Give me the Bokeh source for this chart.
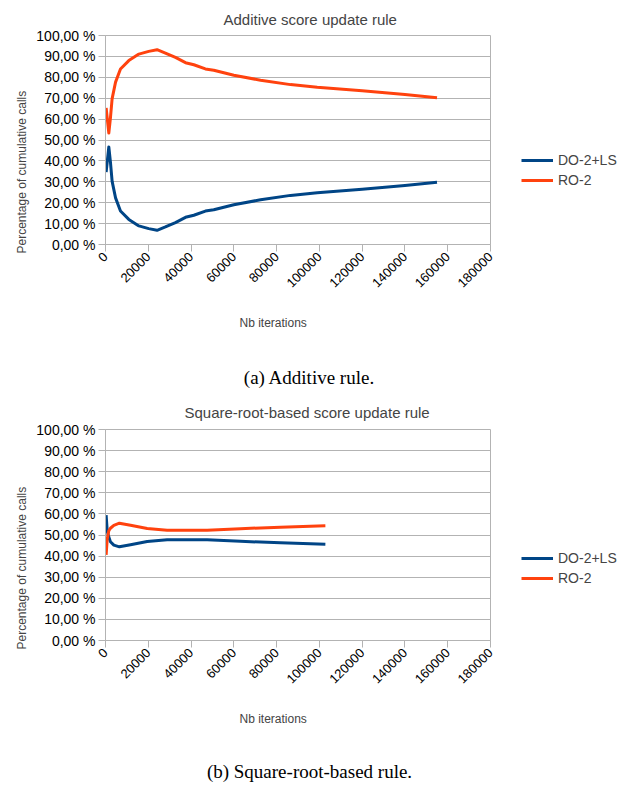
import math
from bokeh.plotting import figure
from bokeh.models import (Range1d, FixedTicker, Legend, LegendItem, Title, Label, Column, Row)
from bokeh.embed import file_html
from bokeh.resources import INLINE

# ---------------- data ----------------
series_names = ["DO-2+LS", "RO-2"]
series_colors = ["#004586", "#ff420e"]

y_ticks = [0, 10, 20, 30, 40, 50, 60, 70, 80, 90, 100]
y_tick_labels = ["0,00 %", "10,00 %", "20,00 %", "30,00 %", "40,00 %", "50,00 %",
                 "60,00 %", "70,00 %", "80,00 %", "90,00 %", "100,00 %"]
x_ticks = [0, 20000, 40000, 60000, 80000, 100000, 120000, 140000, 160000, 180000]
x_tick_labels = ["0", "20000", "40000", "60000", "80000", "100000", "120000",
                 "140000", "160000", "180000"]

# (a) additive rule
iters_a = [300, 1550, 2300, 3100, 4700, 7000, 10900, 15600, 20200, 24100, 28000,
           32700, 37400, 41300, 46700, 50600, 60000, 72500, 86500, 99000,
           120000, 140000, 155000]
do2ls_a = [34.6, 46.7, 39.5, 30.2, 22.3, 16.0, 12.0, 8.9, 7.6, 6.8, 8.4,
           10.5, 13.0, 14.0, 16.0, 16.6, 19.0, 21.4, 23.5, 24.8,
           26.4, 28.2, 29.8]
ro2_a = [65.4, 53.3, 60.5, 69.8, 77.7, 84.0, 88.0, 91.1, 92.4, 93.2, 91.6,
         89.5, 87.0, 86.0, 84.0, 83.4, 81.0, 78.6, 76.5, 75.2,
         73.6, 71.8, 70.2]

# (b) square-root-based rule
iters_b = [300, 800, 1550, 2300, 3900, 6500, 11700, 19500, 28800, 35000, 47500,
           63100, 81800, 102800]
do2ls_b = [59.4, 52.0, 49.0, 46.8, 45.2, 44.4, 45.4, 46.9, 47.7, 47.8, 47.7,
           47.0, 46.3, 45.6]
ro2_b = [40.6, 48.0, 52.0, 53.2, 54.6, 55.6, 54.6, 53.1, 52.3, 52.2, 52.3,
         53.0, 53.7, 54.4]

titles = ["Additive score update rule", "Square-root-based score update rule"]
captions = ["(a) Additive rule.", "(b) Square-root-based rule."]
x_label = "Nb iterations"
y_label = "Percentage of cumulative calls"

FONT = "Liberation Sans"
GRID = "#b3b3b3"


def make_chart(iters, do2, ro2, title, title_off, title_standoff, xl_standoff,
               height, top, frame_h):
    p = figure(width=500, height=height, x_range=Range1d(0, 180000), y_range=Range1d(0, 100),
               output_backend="svg", toolbar_location=None,
               min_border_left=105, min_border_right=10, min_border_top=top,
               min_border_bottom=height - top - frame_h)
    p.outline_line_color = GRID
    p.outline_line_width = 1
    p.xgrid.visible = False
    p.ygrid.grid_line_color = GRID
    p.ygrid.grid_line_width = 1
    p.ygrid.ticker = FixedTicker(ticks=y_ticks)

    p.yaxis.ticker = FixedTicker(ticks=y_ticks)
    p.yaxis.major_label_overrides = dict(zip(y_ticks, y_tick_labels))
    p.xaxis.ticker = FixedTicker(ticks=x_ticks)
    p.xaxis.major_label_overrides = dict(zip(x_ticks, x_tick_labels))
    p.xaxis.major_label_orientation = math.pi / 4
    for ax in (p.xaxis, p.yaxis):
        ax.axis_line_color = GRID
        ax.major_tick_line_color = GRID
        ax.minor_tick_line_color = None
        ax.major_tick_in = 0
        ax.major_tick_out = 7
        ax.major_label_text_font = FONT
        ax.major_label_text_color = "#000000"
        ax.major_label_standoff = 3
    p.yaxis.major_label_text_font_size = "14px"
    p.xaxis.major_label_text_font_size = "13px"

    p.line(iters, do2, line_width=3, color=series_colors[0], line_join="round")
    p.line(iters, ro2, line_width=3, color=series_colors[1], line_join="round")

    p.title.text = title
    p.title.align = "left"
    p.title.offset = title_off
    p.title.text_font = FONT
    p.title.text_font_size = "15px"
    p.title.text_font_style = "normal"
    p.title.text_line_height = 0.8
    p.title.standoff = title_standoff

    p.add_layout(Title(text=y_label, align="left", offset=-9, text_font=FONT,
                       text_font_size="12px", text_font_style="normal",
                       standoff=9), "left")
    p.add_layout(Title(text=x_label, align="left", offset=134, text_font=FONT,
                       text_font_size="12px", text_font_style="normal",
                       standoff=xl_standoff), "below")
    return p


def make_legend_panel(height, legend_y, iters, do2, ro2):
    # frame borders are aligned with the chart next to it by the Row layout
    q = figure(width=130, height=height, x_range=Range1d(-2, -1), y_range=Range1d(-2, -1),
               output_backend="svg", toolbar_location=None, min_border=0)
    q.axis.visible = False
    q.grid.visible = False
    q.outline_line_color = None
    q.background_fill_alpha = 0
    r1 = q.line(iters, do2, line_width=3, color=series_colors[0])
    r2 = q.line(iters, ro2, line_width=3, color=series_colors[1])
    legend = Legend(items=[LegendItem(label=series_names[0], renderers=[r1]),
                           LegendItem(label=series_names[1], renderers=[r2])],
                    location=(21, legend_y), padding=0, margin=0, spacing=0,
                    glyph_width=32, glyph_height=20, label_height=20,
                    label_standoff=5, label_text_font=FONT,
                    label_text_font_size="14px", border_line_color=None,
                    background_fill_alpha=0)
    q.add_layout(legend, "center")
    return q


def make_caption(text, height, y):
    c = figure(width=630, height=height, x_range=Range1d(0, 630), y_range=Range1d(0, height),
               output_backend="svg", toolbar_location=None, min_border=0)
    c.axis.visible = False
    c.grid.visible = False
    c.outline_line_color = None
    c.add_layout(Label(text=text, x=309, y=y, x_units="screen", y_units="screen",
                       text_align="center", text_baseline="middle",
                       text_font="Liberation Serif", text_font_size="19px",
                       text_color="#000000"))
    return c


# chart (a): 0..352, caption (a): 352..392, chart (b): 392..751, caption (b): 751..785
p1 = make_chart(iters_a, do2ls_a, ro2_a, titles[0], 118, 16, 38, 352, 34, 210)
l1 = make_legend_panel(352, 54, iters_a, do2ls_a, ro2_a)
c1 = make_caption(captions[0], 40, 15)
p2 = make_chart(iters_b, do2ls_b, ro2_b, titles[1], 79, 17, 38, 359, 37, 211)
l2 = make_legend_panel(359, 52, iters_b, do2ls_b, ro2_b)
c2 = make_caption(captions[1], 34, 14)

layout = Column(children=[Row(children=[p1, l1], spacing=0), c1,
                          Row(children=[p2, l2], spacing=0), c2], spacing=0)
open("out.html", "w").write(file_html(layout, INLINE))
